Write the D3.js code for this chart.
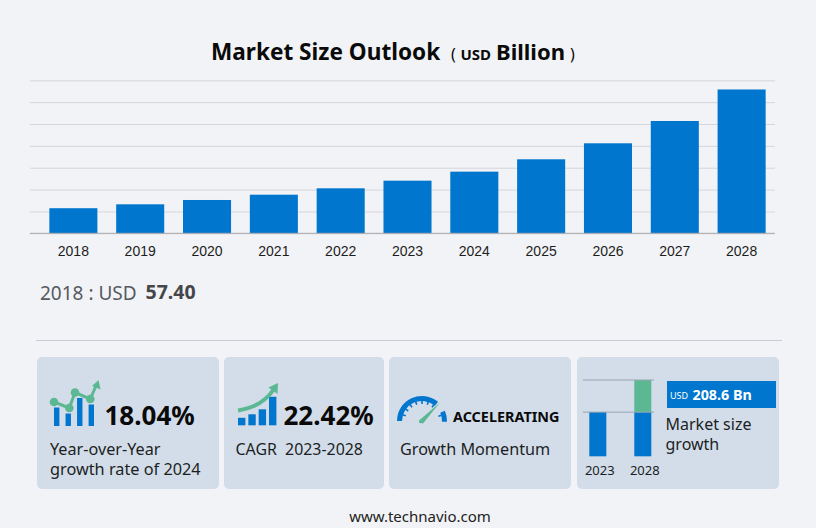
<!DOCTYPE html>
<html>
<head>
<meta charset="utf-8">
<script src="https://cdn.jsdelivr.net/npm/d3@7"></script>
<style>
  html, body { margin: 0; padding: 0; background: #f2f3f6; overflow: hidden; }
  svg { display: block; }
  text { font-family: "Noto Sans", sans-serif; white-space: pre; }
  .tick-label text { font-family: "Liberation Sans", Arial, sans-serif; }
</style>
</head>
<body>
<svg id="chart" width="816" height="528"></svg>
<script>
// main chart data
const years = ["2018", "2019", "2020", "2021", "2022", "2023", "2024", "2025", "2026", "2027", "2028"];
const marketSize = [57.4, 66.3, 76.2, 88.3, 102.9, 120.4, 141, 169.3, 205.9, 256.9, 329];
const gridTicks = [0, 50, 100, 150, 200, 250, 300, 350];

// mini charts inside the cards (schematic)
const miniYears = ["2023", "2028"];
const miniBase = [44, 44];
const miniGrowth = [0, 32];
const yoyBars = [18.5, 12.5, 28, 21.5];
const yoyLine = [24, 18, 33.5, 27, 42.5];
const cagrBars = [7.5, 11, 16, 28.5];

const blue = "#0076ce";
const green = "#5cb893";
const cardFill = "#d3dde9";

const svg = d3.select("#chart");

function label(x, y, str, size, opts = {}) {
  return svg.append("text")
    .attr("x", x)
    .attr("y", y)
    .attr("font-size", size)
    .attr("font-weight", opts.weight || 400)
    .attr("fill", opts.fill || "#1b1f24")
    .attr("text-anchor", opts.anchor || "start")
    .text(str);
}

// title
label(211, 60, "Market Size Outlook", 22.6, { weight: 700, fill: "#0a0a0a" });
label(451, 60, "(", 16, { fill: "#0a0a0a" });
label(460.5, 60, "USD", 15, { weight: 700, fill: "#0a0a0a" });
label(496, 60, "Billion", 22, { weight: 700, fill: "#0a0a0a" });
label(570, 60, ")", 16, { fill: "#0a0a0a" });

// main bars
const xScale = d3.scaleBand()
  .domain(years)
  .range([40, 775])
  .paddingInner(0.281)
  .paddingOuter(0.14);

const yScale = d3.scaleLinear()
  .domain([0, 350])
  .range([233.3, 80.3]);

const yAxis = svg.append("g")
  .attr("transform", "translate(30,0)")
  .call(d3.axisLeft(yScale).tickValues(gridTicks).tickSize(-745).tickFormat(""));
yAxis.select(".domain").remove();
yAxis.selectAll(".tick line").attr("stroke", "#d5d6dc").attr("stroke-width", 1);

svg.selectAll(".bar")
  .data(years)
  .enter().append("rect")
  .attr("class", "bar")
  .attr("x", d => xScale(d))
  .attr("width", xScale.bandwidth())
  .attr("y", (d, i) => yScale(marketSize[i]))
  .attr("height", (d, i) => yScale(0) - yScale(marketSize[i]))
  .attr("fill", blue);

const xAxis = svg.append("g")
  .attr("class", "tick-label")
  .attr("transform", `translate(0,${yScale(0)})`)
  .call(d3.axisBottom(xScale).tickSize(0).tickPadding(13));
xAxis.select(".domain").remove();
xAxis.selectAll("text").attr("font-size", 14).attr("fill", "#1d1d1d");
svg.append("line")
  .attr("x1", 30).attr("x2", 775)
  .attr("y1", yScale(0)).attr("y2", yScale(0))
  .attr("stroke", "#a9a9ad");

// first year readout
label(40, 300, "2018 : USD", 19, { fill: "#555a60" });
label(145.5, 299, "57.40", 19.5, { weight: 700, fill: "#444649" });

svg.append("line")
  .attr("x1", 36).attr("x2", 782)
  .attr("y1", 340.5).attr("y2", 340.5)
  .attr("stroke", "#c9ccd3");

// cards
const cards = [[37, 182], [224, 160], [389, 182], [577, 202]];
svg.selectAll(".card")
  .data(cards)
  .enter().append("rect")
  .attr("class", "card")
  .attr("x", d => d[0])
  .attr("width", d => d[1])
  .attr("y", 357)
  .attr("height", 132)
  .attr("rx", 5)
  .attr("fill", cardFill);

// card 1: year over year
const yoyX = d3.scalePoint().domain(d3.range(4)).range([56.7, 91.3]);
const yoyY = d3.scaleLinear().domain([0, 50]).range([426, 376]);
svg.selectAll(".yoy-bar")
  .data(yoyBars)
  .enter().append("rect")
  .attr("x", (d, i) => yoyX(i) - 2.7)
  .attr("width", 5.4)
  .attr("y", d => yoyY(d))
  .attr("height", d => yoyY(0) - yoyY(d))
  .attr("fill", blue);

const yoyLineX = d3.scaleOrdinal().domain(d3.range(5)).range([54, 69.3, 75, 90.3, 97]);
const yoyPath = d3.line().x((d, i) => yoyLineX(i)).y(d => yoyY(d));
svg.append("path")
  .attr("d", yoyPath(yoyLine))
  .attr("fill", "none")
  .attr("stroke", green)
  .attr("stroke-width", 3);
svg.selectAll(".yoy-dot")
  .data(yoyLine.slice(0, 4))
  .enter().append("circle")
  .attr("cx", (d, i) => yoyLineX(i))
  .attr("cy", d => yoyY(d))
  .attr("r", 4.3)
  .attr("fill", green);
svg.append("path")
  .attr("d", "M98.5,380 L100.5,389.5 L92,386 Z")
  .attr("fill", green);

label(104.5, 425, "18.04%", 26, { weight: 700, fill: "#0a0a0a" });
label(50, 455, "Year-over-Year", 16.2);
label(50, 475, "growth rate of 2024", 16.3);

// card 2: cagr
const cagrX = d3.scalePoint().domain(d3.range(4)).range([241.7, 272.7]);
const cagrY = d3.scaleLinear().domain([0, 30]).range([425.3, 395.3]);
svg.selectAll(".cagr-bar")
  .data(cagrBars)
  .enter().append("rect")
  .attr("x", (d, i) => cagrX(i) - 3.7)
  .attr("width", 7.4)
  .attr("y", d => cagrY(d))
  .attr("height", d => cagrY(0) - cagrY(d))
  .attr("fill", blue);
svg.append("path")
  .attr("d", "M238,410.5 C255,408 266,401 274,389")
  .attr("fill", "none")
  .attr("stroke", green)
  .attr("stroke-width", 4);
svg.append("path")
  .attr("d", "M278,383 L277.5,394 L268.5,387.5 Z")
  .attr("fill", green);

label(283.5, 425, "22.42%", 26, { weight: 700, fill: "#0a0a0a" });
label(235.5, 455, "CAGR  2023-2028", 15.9);

// card 3: momentum gauge
const gaugeArc = d3.arc().innerRadius(20).outerRadius(25);
const gaugeSpans = [[-90, 40], [66, 92]];
svg.selectAll(".gauge")
  .data(gaugeSpans)
  .enter().append("path")
  .attr("transform", "translate(422,421)")
  .attr("d", d => gaugeArc({ startAngle: d[0] * Math.PI / 180, endAngle: d[1] * Math.PI / 180 }))
  .attr("fill", blue);
const gaugeTicks = [-72, -54, -36, -18, 0, 18, 36, 74];
svg.selectAll(".gauge-tick")
  .data(gaugeTicks)
  .enter().append("line")
  .attr("transform", d => `translate(422,421) rotate(${d})`)
  .attr("y1", -20.5)
  .attr("y2", -17)
  .attr("stroke", blue)
  .attr("stroke-width", 1.6);
svg.append("path")
  .attr("d", "M419,420.5 L440,402.5 L423,423.5 L419,422.8 Z")
  .attr("fill", green);

label(453, 421.5, "ACCELERATING", 14.4, { weight: 700, fill: "#0a0a0a" });
label(400, 455, "Growth Momentum", 16.2);

// card 4: market size growth
const miniX = d3.scaleBand().domain(miniYears).range([583, 657.6]).paddingInner(0.622).paddingOuter(0.14);
const miniY = d3.scaleLinear().domain([0, 76]).range([456.3, 380]);
svg.selectAll(".mini-base")
  .data(miniYears)
  .enter().append("rect")
  .attr("x", d => miniX(d))
  .attr("width", miniX.bandwidth())
  .attr("y", (d, i) => miniY(miniBase[i]))
  .attr("height", (d, i) => miniY(0) - miniY(miniBase[i]))
  .attr("fill", blue);
svg.selectAll(".mini-growth")
  .data(miniYears)
  .enter().append("rect")
  .attr("x", d => miniX(d))
  .attr("width", miniX.bandwidth())
  .attr("y", (d, i) => miniY(miniBase[i] + miniGrowth[i]))
  .attr("height", (d, i) => miniY(miniBase[i]) - miniY(miniBase[i] + miniGrowth[i]))
  .attr("fill", green);
svg.selectAll(".mini-rule")
  .data([44, 76])
  .enter().append("line")
  .attr("x1", 583).attr("x2", 654)
  .attr("y1", d => miniY(d)).attr("y2", d => miniY(d))
  .attr("stroke", "#96a3b3");
miniYears.forEach(d => {
  label(miniX(d) + miniX.bandwidth() / 2 + 2, 475, d, 13, { anchor: "middle" });
});

svg.append("rect")
  .attr("x", 667).attr("y", 381)
  .attr("width", 109).attr("height", 27)
  .attr("fill", blue);
label(670, 399, "USD", 9, { fill: "#fff" });
label(692.5, 399.5, "208.6 Bn", 14.3, { weight: 700, fill: "#fff" });
label(665.5, 430, "Market size", 16);
label(665.5, 450, "growth", 16);

// footer
label(420, 522, "www.technavio.com", 15, { anchor: "middle", fill: "#222" });
</script>
</body>
</html>
